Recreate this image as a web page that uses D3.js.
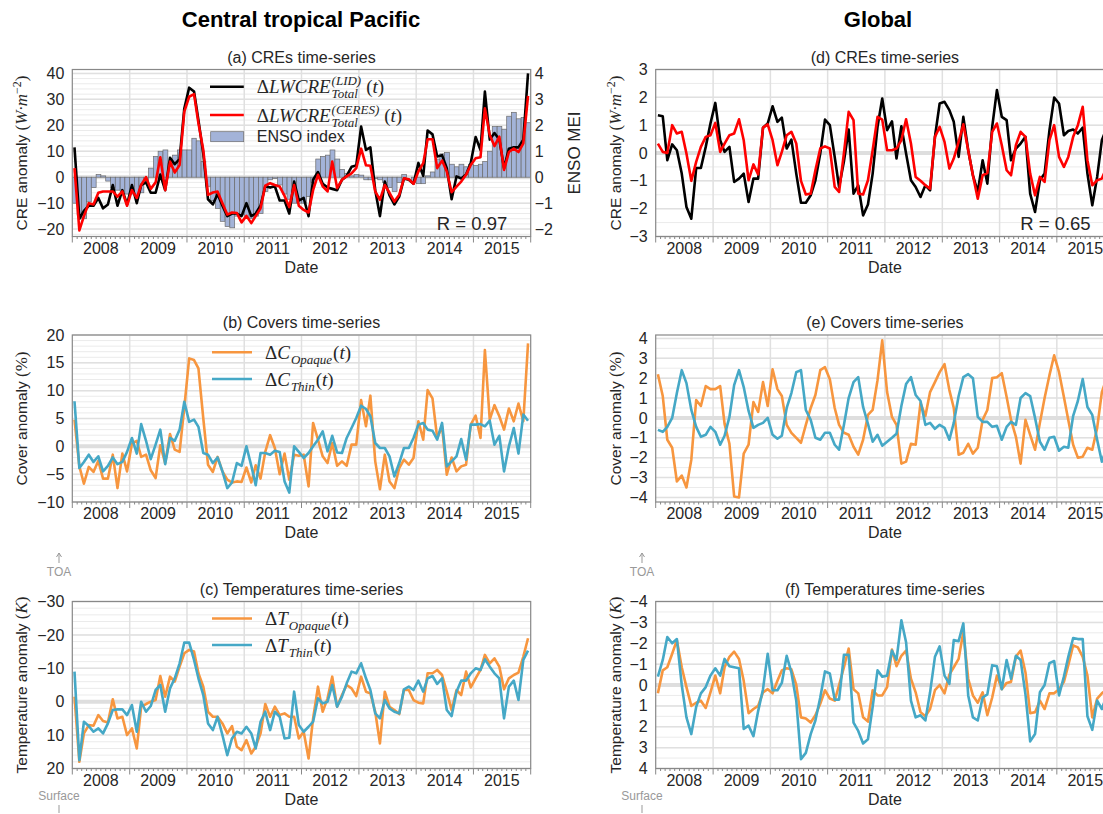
<!DOCTYPE html>
<html>
<head>
<meta charset="utf-8">
<script src="https://cdn.jsdelivr.net/npm/d3@7"></script>
<style>
body { margin: 0; background: #fff; }
svg text { font-family: "Liberation Sans", Arial, sans-serif; fill: #262626; }
</style>
</head>
<body>
<svg id="fig" width="1103" height="814"></svg>
<script>
// monthly values, Jan 2008 .. Dec 2015
const years = [2008, 2009, 2010, 2011, 2012, 2013, 2014, 2015];

// (a) central tropical Pacific CRE (W m-2) and ENSO MEI
const ctpLid = [11.5, -16, -13, -11, -11, -8, -12, -10.5, -3, -11, -5, -10.5,
  -3, -10, -3, -2, -6, -6, 1, -5, 7.5, 5, 7, 26.5,
  34.5, 33, 22, 9, -8.5, -10.5, -6.5, -11, -15, -14, -14, -15,
  -10, -15, -14, -11, -3.5, -4, -3.5, -9, -9, -14, -1.7, -9,
  -8, -15, -1, 2, -2.5, -4, -4.5, -5, -1, 0.5, 4, 4.5,
  19.5, 10.5, 11.5, -5, -15, -1.7, -7, -10.5, -7.5, -0.5, -1, -2.5,
  5.5, 0.5, 18, 16.5, 8, 8.5, 3.5, -8.5, 0.3, -0.5, 1, 5.5,
  15.5, 10.5, 33, 14.5, 17, 14.5, 3.5, 11, 11.5, 11.5, 14.5, 40];
const ctpCeres = [3.5, -20.5, -15, -10, -10.5, -6, -5.5, -5.5, -5.5, -7.5, -5.5, -11,
  -5, -8, -3, 0, -4.5, -2, 7.7, -5, 6, 1.8, 4.7, 25.3,
  31, 32, 20.8, 10.5, -6.8, -5.9, -5.5, -10, -14.4, -13.6, -13.8, -17.4,
  -14.9, -17.7, -15, -12, -3.3, -2.3, -3, -3.6, -7.2, -11.5, -3, -11,
  -12.6, -13.6, -5, 0.9, -3.5, -5.5, 6, -4.2, -1, 0.3, 1.5, 3.5,
  11, 4.6, 4.4, -5.5, -8.7, -3, -6, -9.4, -6.8, -0.4, -0.8, -2.6,
  2.2, 5.4, 14.6, 14.6, 3.5, 6.4, 2.2, -5.8, -3.6, -1.7, 0.9, 4.7,
  7.3, 7.7, 26.5, 16.3, 12, 15.6, 2.8, 9.7, 11, 9.7, 13, 31.3];
const ensoMei = [-1.0, -1.45, -1.6, -0.95, -0.4, 0.1, 0.05, -0.15, -0.4, -0.5, -0.55, -0.65,
  -0.65, -0.7, -0.6, -0.2, 0.35, 0.8, 1.0, 1.05, 0.55, 0.85, 1.05, 1.05,
  1.05, 1.5, 1.4, 0.6, -0.35, -0.9, -1.2, -1.7, -1.9, -1.95, -1.5, -1.45,
  -1.55, -1.6, -1.5, -1.4, -0.55, -0.1, -0.05, -0.3, -0.65, -0.85, -1.0, -1.0,
  -1.0, -0.75, -0.2, 0.7, 0.8, 0.85, 1.05, 0.7, 0.3, 0.15, 0.05, 0.1,
  0.08, -0.1, -0.1, -0.05, -0.1, -0.2, -0.4, -0.55, -0.2, 0.1, 0.0, -0.2,
  -0.25, -0.25, 0.05, 0.2, 0.7, 0.9, 0.95, 0.5, 0.4, 0.5, 0.4, 0.5,
  0.45, 0.5, 0.6, 1.0, 1.95, 1.95, 1.85, 2.35, 2.5, 2.25, 2.3, 2.1];

// (d) global CRE
const globLid = [1.36, 1.32, -0.26, 0.31, 0.1, -0.74, -1.94, -2.36, -0.54, -0.54, 0.22, 1.06,
  1.8, 0.46, 0.04, 0.22, -1.04, -0.92, -0.74, -1.76, -0.92, -0.92, 0.91, 1.06,
  1.68, 1.12, 1.27, 0.16, 0.48, -0.74, -1.79, -1.79, -1.52, -0.98, -0.02, 1.2,
  1.0, -0.14, -1.22, -0.3, 0.84, -1.46, -1.16, -2.24, -1.85, -0.74, 0.94, 1.96,
  0.82, 1.14, -0.2, 0.96, -0.02, -0.98, -1.22, -1.58, -1.16, -1.34, 0.58, 1.78,
  1.84, 1.54, 1.12, -0.14, 1.3, 0.1, -0.8, -1.4, -0.26, -1.1, 0.94, 2.26,
  1.3, 1.18, -0.26, 0.16, 0.34, 0.58, -1.46, -2.12, -0.98, -0.74, 0.82, 1.99,
  1.78, 0.64, 0.79, 0.84, 0.7, 0.91, -0.74, -1.88, -0.86, 0.46, 0.9, 1.1];
const globCeres = [0.34, 0.04, 0.0, 1.0, 0.7, 0.76, -0.02, -1.0, -0.32, 0.22, 0.58, 0.64,
  1.08, 0.04, 0.34, 0.64, 0.7, 1.21, 0.46, -0.98, -0.41, -0.77, 0.91, 1.03,
  0.46, -0.44, 0.04, 0.64, 0.76, 0.34, -1.0, -1.49, -1.46, -0.62, 0.16, 0.24,
  0.16, -1.22, -1.4, 0.0, 1.48, 1.18, -1.46, -1.49, -0.98, 0.1, 1.3, 1.2,
  0.1, 0.1, 0.16, 0.46, 1.21, 0.34, -0.86, -1.0, -1.16, -1.28, 0.58, 0.94,
  0.4, -0.56, -0.2, 0.4, 1.03, 0.1, -0.8, -1.64, -0.8, -0.72, 0.76, 1.06,
  0.28, -0.62, -0.8, 0.28, 0.76, 0.58, -0.74, -1.52, -0.86, -1.04, 0.46, 1.0,
  -0.14, -0.5, -0.14, 0.58, 1.0, 1.66, -0.26, -1.16, -0.98, -0.92, -0.5, 0.0];

// (b) central tropical Pacific cloud covers (%)
const ctpCovOpaque = [4.8, -3.6, -6.7, -3.7, -4.6, -2.6, -5.8, -5.8, -1.5, -7.5, -1.3, -4.5,
  0.5, 1.0, -1.9, -1.5, -4.3, -5.7, 0.2, -3.0, 2.2, -0.6, -1.0, 7,
  15.8, 15.5, 14, 5, -3.3, -4.6, -1.9, -4.5, -6.0, -6.5, -6.3, -6.4,
  -3.8, -6.5, -3.4, -5.8, -1.0, 2.0, -0.3, -5.0, -1.3, -6, -1.5, -1.7,
  -1.5, -7.2, 4.2, 1.2, -1.8, -3.0, 0.6, -3.5, -2.7, -3.5, 0.3, 0.3,
  8.3, 3.6, 9.1, -2.7, -7.7, -1.5, -6.3, -7.5, -3.9, -2.4, -3.3, -2.1,
  4.5, 1.2, 10.1, 8.6, 1.5, 3.6, -5.1, -2.0, -4.5, -3.6, -3.3, 3.9,
  5.5, 1.5, 17.3, 4.8, 7.4, 5.4, 3.0, 6.8, 4.5, 7.7, 4.5, 18.5];
const ctpCovThin = [8.1, -3.9, -2.8, -1.5, -2.8, -1.8, -4.5, -3.5, -2.0, -3.2, -2.8, -1.0,
  1.5, -1.3, 4.0, 1.0, -2.3, 0.3, 3.0, -3.2, 1.5, 1.0, 3.0, 8.0,
  4.4, 4.8, 3.5, -1.2, -1.5, -3.0, -2.0, -4.5, -7.5, -6.5, -3.0, -3.5,
  0.0, -3.5, -7.0, -1.2, -1.2, -1.5, -0.8, -1.0, -6.3, -8.3, 0.0, -1.0,
  -2.1, -1.2, 0.0, 1.2, 2.7, -0.9, 1.9, -1.1, -1.2, 1.5, 3.3, 5.1,
  7.3, 6.7, 5.4, 0.6, -0.3, -0.3, -1.8, -5.4, -3.0, -0.3, -0.3, 1.5,
  3.9, 4.2, 3.0, 2.8, 1.2, 4.2, -3.6, -2.7, -1.8, 1.3, -2.4, 3.9,
  3.9, 4.0, 3.6, 4.6, 0.3, 1.9, -4.5, 0.0, 3.3, -1.3, 5.7, 4.6];

// (e) global cloud covers (%)
const globCovOpaque = [2.2, 1.1, -1.1, -1.5, -3.2, -2.9, -3.5, -2.1, 0.9, 0.6, 1.6, 1.45,
  1.45, 1.6, -0.3, -1.3, -3.95, -4.0, -1.8, -1.35, 0.8, 0.3, 1.8, 0.6,
  2.45, 1.45, 1.1, -0.35, -0.75, -1.0, -1.25, -0.35, 0.5, 1.15, 2.4, 2.55,
  1.95, 0.5, -0.35, -0.75, -0.85, -1.45, -1.85, -1.1, 0.15, 0.4, 1.9, 3.9,
  1.3, 0.05, -0.35, -2.3, -2.2, -1.3, -1.35, 0.75, 0.1, 1.3, 1.8, 2.3,
  2.7, 1.4, 0.5, -1.85, -1.75, -1.3, -1.8, -1.5, -0.1, 0.4, 2.0, 2.05,
  2.25, 1.05, -0.1, -0.95, -2.3, -0.1, -0.85, -1.6, -0.25, 1.0, 2.15, 3.15,
  2.3, 1.05, -0.1, -1.35, -2.0, -1.95, -1.5, -1.6, -0.5, 1.3, 2.0, 2.2];
const globCovThin = [-0.6, -0.7, -0.45, 0.0, 1.25, 2.4, 1.75, 0.4, -0.45, -0.95, -0.85, -0.45,
  -0.7, -1.35, -0.9, 0.05, 1.65, 2.4, 1.55, 0.35, -0.5, -0.35, -0.25, 0.0,
  -0.85, -1.05, -0.9, 0.5, 1.25, 2.3, 2.4, 0.4, -0.1, -1.0, -1.1, -0.75,
  -0.75, -1.35, -1.6, -0.35, 1.0, 1.8, 2.05, 0.55, -0.3, -1.2, -0.85, -1.4,
  -1.2, -1.0, -0.8, 0.6, 1.7, 2.05, 1.15, 0.85, -0.35, -0.25, -0.55, -0.35,
  -0.5, -1.1, -0.25, 1.1, 2.05, 2.2, 2.0, 0.05, -0.2, -0.2, -0.45, -0.4,
  -1.1, -0.45, -0.2, -0.35, 1.0, 1.25, 1.1, 0.0, -1.2, -1.6, -1.0, -0.95,
  -1.65, -1.45, -1.5, 0.1, 0.85, 1.95, 0.55, 0.15, -1.1, -2.2, -1.5, -1.0];

// (c) central tropical Pacific cloud temperatures (K)
const ctpTempOpaque = [-1.5, 18, 9.5, 7, 7.2, 4, 5.8, 6.2, -0.7, 5, 4.5, 10,
  8, 14, 1.5, 0.7, 0, -0.5, -7.7, -1.5, -7.5, -6, -10.5, -14.5,
  -15.5, -15, -8.5, -4.5, 3, 4.5, 4.5, 6.5, 9.5, 7.3, 13.5, 14.5,
  11.5, 15.5, 13.5, 9.5, 0.7, 4.5, 1.5, 4, 3.5, 4.5, 4.5, 11,
  9, 17, 5, -4.5, 3, -1, -7.5, 1.5, -2, -5, -4, -1.7,
  -7.5, -3, -2.5, 3, 12.5, -3, 1.5, 2.5, 3.7, -3.5, -3.5, -0.5,
  0.3, 0.5, -8.5, -8.5, -9.5, -8, -3, 2.5, -3.5, -2, -9, -4.3,
  -7, -9.5, -14, -11.5, -13, -10.5, -3.7, -7, -8, -8.7, -13.5, -19];
const ctpTempThin = [-9, 17.5, 6, 7.3, 9, 8, 9.5, 6.5, 2.5, 2.3, 2.3, 4,
  1, 9, 0, 3, 1.3, -3.5, -5, 3, -4, -7, -11.5, -17.7,
  -17.7, -12.5, -7, -2, 6.5, 8.5, 4.5, 10, 16, 11, 9, 9.5,
  7.5, 9.5, 14, 6, 3, 8.5, 3, 4.5, 11, 10.8, -3, 7,
  9, 7.5, 6, -1, 0.5, 0, -5, 1.5, -1.5, -5.5, -9, -8.5,
  -11.5, -7, -3.5, 3.5, 5, -0.5, 2, 3, 3.5, -3.7, -4.5, -3.5,
  -6.3, -3, -7, -7.7, -5.3, -7, 2.5, 4.3, -3, -6.3, -6.3, -8.5,
  -10, -9.5, -12.7, -10.5, -8.5, -7, 5, -4.5, -6.3, -0.5, -12.5, -15.3];

// (f) global cloud temperatures (K)
const globTempOpaque = [0.4, -0.7, -0.85, -1.5, -2.15, -0.85, 0.1, 1.0, 0.85, 0.75, 1.1, 0.35,
  -0.45, 0.4, -0.85, -1.35, -1.6, -1.25, -0.2, 1.35, 1.15, 1.0, 0.35, 0.2,
  0.4, -0.2, -0.7, -0.8, -0.75, 0.0, 1.55, 1.6, 1.8, 1.45, 0.9, 0.25,
  0.65, 0.75, 0.0, -0.85, -1.75, 0.2, 0.4, 1.55, 1.75, 0.25, 0.5, 0.5,
  0.1, -1.7, -0.9, -1.4, -1.65, -0.3, 0.35, 1.3, 1.5, 1.15, 0.25, 0.0,
  0.4, -0.5, -0.85, -1.25, -2.55, -0.3, 0.5, 0.85, 0.35, 1.45, 0.6, -0.45,
  0.2, -0.1, -0.15, -1.35, -1.65, -0.6, 1.35, 1.3, 0.75, 1.15, 0.4, 0.4,
  0.2, -0.15, -0.95, -1.9, -1.8, -1.35, -0.45, 1.55, 0.65, 0.4, 0.2, 0.0];
const globTempThin = [-0.4, -1.2, -2.3, -2.0, -2.2, 0.0, 1.55, 2.35, 1.05, 0.4, 0.1, -0.45,
  -0.8, -0.45, -1.25, -0.9, -0.85, -0.8, 2.1, 1.95, 2.45, 1.25, 0.2, -1.5,
  0.25, 0.25, -0.1, -1.4, -0.6, 0.75, 3.55, 3.25, 2.35, 1.7, 0.6, -0.65,
  -0.55, 0.7, 0.7, -1.45, -1.45, 1.8, 2.2, 2.8, 2.6, 1.05, -0.7, -0.4,
  -0.45, -1.65, -1.2, -3.1, -2.05, 0.75, 1.55, 1.45, 1.7, 0.35, -1.35, -1.85,
  -0.45, -0.05, -2.15, -2.1, -2.95, 0.5, 1.55, 1.7, 0.6, 0.45, -0.95, -0.9,
  0.2, -1.2, -0.3, -1.4, -1.2, 0.45, 2.7, 2.35, 0.35, 0.0, -1.05, -1.15,
  0.5, -0.4, -1.35, -2.25, -2.2, -2.2, 1.5, 2.15, 0.75, 1.15, 0.5, 0.0];

const orange = "#f7963f";
const teal = "#45a8c6";
const mathFont = "'Liberation Serif', serif";

const svg = d3.select("#fig");
const plotW = 458.4;
const plotH = 167;

const months = d3.range(96).map(i => new Date(2008, i, 15));
const x = d3.scaleTime()
  .domain([new Date(2008, 0, 1), new Date(2016, 0, 1)])
  .range([0, plotW]);

// main titles
svg.append("text").attr("x", 301).attr("y", 27).attr("text-anchor", "middle")
  .style("font-size", "22px").style("font-weight", "bold").style("fill", "#000")
  .text("Central tropical Pacific");
svg.append("text").attr("x", 878).attr("y", 27).attr("text-anchor", "middle")
  .style("font-size", "22px").style("font-weight", "bold").style("fill", "#000")
  .text("Global");

// draw one panel frame with grid, axes and labels, return its group and y scale
function drawPanel(p) {
  const g = svg.append("g").attr("transform", "translate(" + p.left + "," + p.top + ")");
  const y = d3.scaleLinear().domain(p.ydom).range([plotH, 0]);
  const lo = d3.min(p.ydom), hi = d3.max(p.ydom);

  g.append("clipPath").attr("id", "clip-" + p.id)
    .append("rect").attr("width", plotW).attr("height", plotH);

  // minor horizontal grid
  const minor = d3.range(Math.ceil(lo / p.minor) * p.minor, hi + 1e-9, p.minor);
  g.selectAll(".minor").data(minor).enter().append("line")
    .attr("x1", 0).attr("x2", plotW)
    .attr("y1", d => y(d)).attr("y2", d => y(d))
    .attr("stroke", "#ebebeb").attr("stroke-width", 1);

  // major horizontal grid
  g.selectAll(".major").data(p.ticks).enter().append("line")
    .attr("x1", 0).attr("x2", plotW)
    .attr("y1", d => y(d)).attr("y2", d => y(d))
    .attr("stroke", "#e0e0e0").attr("stroke-width", 1.5);

  // vertical grid at each new year
  g.selectAll(".vgrid").data(years.slice(1)).enter().append("line")
    .attr("x1", d => x(new Date(d, 0, 1))).attr("x2", d => x(new Date(d, 0, 1)))
    .attr("y1", 0).attr("y2", plotH)
    .attr("stroke", "#e0e0e0").attr("stroke-width", 1.5);

  // zero line
  g.append("line").attr("x1", 0).attr("x2", plotW)
    .attr("y1", y(0)).attr("y2", y(0))
    .attr("stroke", "#dedede").attr("stroke-width", 4);

  const plot = g.append("g").attr("clip-path", "url(#clip-" + p.id + ")");

  // frame
  g.append("rect").attr("width", plotW).attr("height", plotH)
    .attr("fill", "none").attr("stroke", "#888").attr("stroke-width", 1.2);

  // x ticks: years long, months short
  const monthStarts = d3.range(97).map(i => new Date(2008, i, 1));
  g.selectAll(".xtick").data(monthStarts).enter().append("line")
    .attr("x1", d => x(d)).attr("x2", d => x(d))
    .attr("y1", plotH).attr("y2", d => plotH + (d.getMonth() === 0 ? 6 : 2.5))
    .attr("stroke", "#888").attr("stroke-width", 1);

  g.selectAll(".xlab").data(years).enter().append("text")
    .attr("x", d => x(new Date(d, 6, 1))).attr("y", plotH + 17)
    .attr("text-anchor", "middle").style("font-size", "16px")
    .text(d => d);

  g.append("text").attr("x", plotW / 2).attr("y", plotH + 36)
    .attr("text-anchor", "middle").style("font-size", "16px").text("Date");

  // y tick labels
  g.selectAll(".ylab").data(p.ticks).enter().append("text")
    .attr("x", -8).attr("y", d => y(d)).attr("dy", "0.35em")
    .attr("text-anchor", "end").style("font-size", "16px")
    .text(d => d3.format("d")(d));

  // panel title
  g.append("text").attr("x", plotW / 2).attr("y", -7)
    .attr("text-anchor", "middle").style("font-size", "16px").text(p.title);

  // y label with math unit
  const t = g.append("text")
    .attr("transform", "translate(" + p.ylabX + "," + (plotH / 2) + ") rotate(-90)")
    .attr("text-anchor", "middle").style("font-size", "15.5px");
  t.append("tspan").text(p.ylabel + " ");
  t.append("tspan").style("font-family", mathFont).style("font-size", "17px").text("(");
  t.append("tspan").style("font-family", mathFont).style("font-size", "17px")
    .style("font-style", p.unitItalic ? "italic" : "normal").text(p.unit);
  if (p.unitSup) {
    t.append("tspan").style("font-family", mathFont).style("font-size", "12px")
      .attr("dy", -6).text(p.unitSup);
    t.append("tspan").style("font-family", mathFont).style("font-size", "17px")
      .attr("dy", 6).text(")");
  } else {
    t.append("tspan").style("font-family", mathFont).style("font-size", "17px").text(")");
  }

  return { g: g, plot: plot, y: y };
}

function drawLine(panel, values, color) {
  const line = d3.line()
    .x((d, i) => x(months[i]))
    .y(d => panel.y(d));
  panel.plot.append("path").datum(values)
    .attr("d", line).attr("fill", "none")
    .attr("stroke", color).attr("stroke-width", 2.6)
    .attr("stroke-linejoin", "round");
}

// legend entry with a math label: Δ base, stacked sup / sub, then (t)
function legendEntry(g, x0, x1, yLine, color, base, sup, sub) {
  g.append("line").attr("x1", x0).attr("x2", x1).attr("y1", yLine).attr("y2", yLine)
    .attr("stroke", color).attr("stroke-width", 2.6);
  const tx = x1 + 13, ty = yLine + 6.5;
  const t = g.append("text").attr("x", tx).attr("y", ty)
    .style("font-family", mathFont).style("font-size", "19px");
  t.append("tspan").text("Δ");
  t.append("tspan").style("font-style", "italic").text(base);
  const w = t.node().getComputedTextLength();
  let extra = 0;
  if (sup) {
    const s = g.append("text").attr("x", tx + w + 1).attr("y", ty - 8)
      .style("font-family", mathFont).style("font-size", "13px").style("font-style", "italic")
      .text(sup);
    extra = Math.max(extra, s.node().getComputedTextLength());
  }
  if (sub) {
    const s = g.append("text").attr("x", tx + w + 1).attr("y", ty + 5)
      .style("font-family", mathFont).style("font-size", "13px").style("font-style", "italic")
      .text(sub);
    extra = Math.max(extra, s.node().getComputedTextLength());
  }
  const tail = g.append("text").attr("x", tx + w + 1 + extra + (sup ? 5 : 1)).attr("y", ty)
    .style("font-family", mathFont).style("font-size", "19px");
  tail.append("tspan").text("(");
  tail.append("tspan").style("font-style", "italic").text("t");
  tail.append("tspan").text(")");
}

// ---------- (a) ----------
const pa = drawPanel({ id: "a", left: 72.3, top: 69.5, ydom: [-22.85, 41.5],
  ticks: [-20, -10, 0, 10, 20, 30, 40], minor: 2, title: "(a) CREs time-series",
  ylabel: "CRE anomaly", unit: "W·m", unitItalic: true, unitSup: "−2", ylabX: -45 });

const yEnso = d3.scaleLinear().domain([-2.285, 4.15]).range([plotH, 0]);
pa.plot.selectAll(".bar").data(ensoMei).enter().append("rect")
  .attr("x", (d, i) => x(new Date(2008, i, 1)))
  .attr("width", (d, i) => x(new Date(2008, i + 1, 1)) - x(new Date(2008, i, 1)))
  .attr("y", d => yEnso(Math.max(0, d)))
  .attr("height", d => Math.abs(yEnso(d) - yEnso(0)))
  .attr("fill", "#a3b3d8").attr("stroke", "#6b6b6b").attr("stroke-width", 0.7);

drawLine(pa, ctpLid, "#000");
drawLine(pa, ctpCeres, "#ff0000");

// right axis for ENSO MEI
pa.g.selectAll(".rlab").data([-2, -1, 0, 1, 2, 3, 4]).enter().append("text")
  .attr("x", plotW + 4).attr("y", d => yEnso(d)).attr("dy", "0.35em")
  .style("font-size", "16px").text(d => d3.format("d")(d));
pa.g.append("text")
  .attr("transform", "translate(" + (plotW + 49) + "," + (plotH / 2) + ") rotate(-90)")
  .attr("text-anchor", "middle").style("font-size", "17px").text("ENSO MEI");

legendEntry(pa.g, 137.7, 171.5, 17.2, "#000", "LWCRE", "(LID)", "Total");
legendEntry(pa.g, 137.7, 171.5, 45.5, "#ff0000", "LWCRE", "(CERES)", "Total");
pa.g.append("rect").attr("x", 138.4).attr("y", 62.2).attr("width", 33).attr("height", 10)
  .attr("fill", "#a3b3d8").attr("stroke", "#6b6b6b").attr("stroke-width", 0.7);
pa.g.append("text").attr("x", 184.5).attr("y", 72.5).style("font-size", "16px").text("ENSO index");
pa.g.append("text").attr("x", 364.5).attr("y", 160).style("font-size", "18.5px").text("R = 0.97");

// ---------- (b) ----------
const pb = drawPanel({ id: "b", left: 72.3, top: 335, ydom: [-10, 20],
  ticks: [-10, -5, 0, 5, 10, 15, 20], minor: 1, title: "(b) Covers time-series",
  ylabel: "Cover anomaly", unit: "%", unitItalic: false, ylabX: -45 });
drawLine(pb, ctpCovOpaque, orange);
drawLine(pb, ctpCovThin, teal);
legendEntry(pb.g, 139.7, 179.7, 17.3, orange, "C", null, "Opaque");
legendEntry(pb.g, 139.7, 179.7, 44, teal, "C", null, "Thin");

// ---------- (c) ----------
const pc = drawPanel({ id: "c", left: 72.3, top: 601.5, ydom: [20, -30],
  ticks: [20, 10, 0, -10, -20, -30], minor: 2, title: "(c) Temperatures time-series",
  ylabel: "Temperature anomaly", unit: "K", unitItalic: true, ylabX: -45 });
drawLine(pc, ctpTempOpaque, orange);
drawLine(pc, ctpTempThin, teal);
legendEntry(pc.g, 139.7, 179.7, 17, orange, "T", null, "Opaque");
legendEntry(pc.g, 139.7, 179.7, 43.5, teal, "T", null, "Thin");

// ---------- (d) ----------
const pd = drawPanel({ id: "d", left: 655.7, top: 69.5, ydom: [-3, 3],
  ticks: [-3, -2, -1, 0, 1, 2, 3], minor: 0.5, title: "(d) CREs time-series",
  ylabel: "CRE anomaly", unit: "W·m", unitItalic: true, unitSup: "−2", ylabX: -35 });
drawLine(pd, globLid, "#000");
drawLine(pd, globCeres, "#ff0000");
pd.g.append("text").attr("x", 364.5).attr("y", 160).style("font-size", "18.5px").text("R = 0.65");

// ---------- (e) ----------
const pe = drawPanel({ id: "e", left: 655.7, top: 335, ydom: [-4.23, 4.17],
  ticks: [-4, -3, -2, -1, 0, 1, 2, 3, 4], minor: 0.5, title: "(e) Covers time-series",
  ylabel: "Cover anomaly", unit: "%", unitItalic: false, ylabX: -35 });
drawLine(pe, globCovOpaque, orange);
drawLine(pe, globCovThin, teal);

// ---------- (f) ----------
const pf = drawPanel({ id: "f", left: 655.7, top: 601.5, ydom: [4, -4],
  ticks: [4, 3, 2, 1, 0, -1, -2, -3, -4], minor: 0.5, title: "(f) Temperatures time-series",
  ylabel: "Temperature anomaly", unit: "K", unitItalic: true, ylabX: -35 });
drawLine(pf, globTempOpaque, orange);
drawLine(pf, globTempThin, teal);

// TOA / Surface markers next to the temperature panels
[59, 642].forEach(cx => {
  svg.append("line").attr("x1", cx).attr("x2", cx).attr("y1", 553).attr("y2", 563)
    .attr("stroke", "#999").attr("stroke-width", 1);
  svg.append("path").attr("d", "M" + (cx - 2.5) + ",557 L" + cx + ",553 L" + (cx + 2.5) + ",557")
    .attr("fill", "none").attr("stroke", "#999").attr("stroke-width", 1);
  svg.append("text").attr("x", cx).attr("y", 576).attr("text-anchor", "middle")
    .style("font-size", "12px").style("fill", "#999").text("TOA");
  svg.append("text").attr("x", cx).attr("y", 800).attr("text-anchor", "middle")
    .style("font-size", "12px").style("fill", "#999").text("Surface");
  svg.append("line").attr("x1", cx).attr("x2", cx).attr("y1", 805).attr("y2", 813)
    .attr("stroke", "#999").attr("stroke-width", 1);
});
</script>
</body>
</html>
